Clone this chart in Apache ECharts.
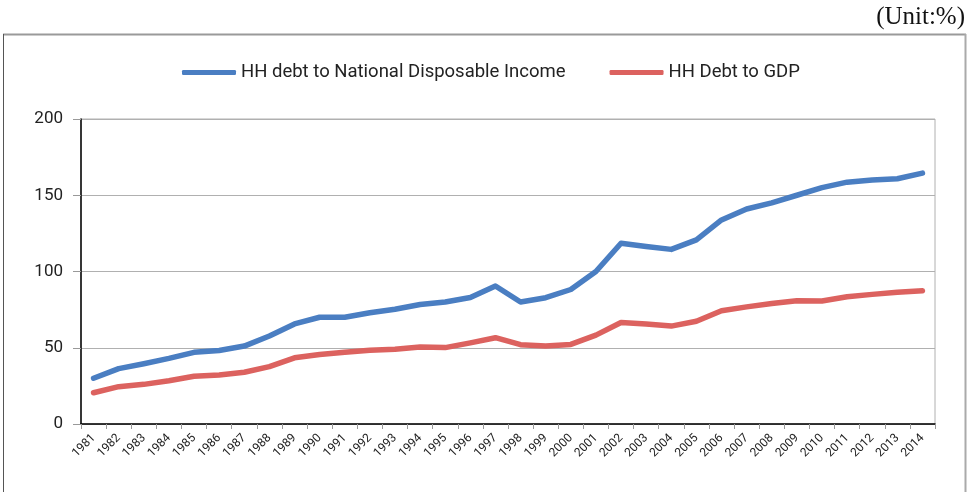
<!DOCTYPE html>
<html>
<head>
<meta charset="utf-8">
<script src="https://cdn.jsdelivr.net/npm/echarts@6/dist/echarts.min.js"></script>
<style>html,body{margin:0;padding:0;background:#fff;}#c{width:969px;height:492px;}</style>
</head>
<body>
<div id="c"></div>
<script>
const years = ['1981','1982','1983','1984','1985','1986','1987','1988','1989','1990','1991','1992','1993','1994','1995','1996','1997','1998','1999','2000','2001','2002','2003','2004','2005','2006','2007','2008','2009','2010','2011','2012','2013','2014'];
const hhDebtToNDI = [30, 36.3, 39.5, 43, 47, 48.2, 51.1, 57.7, 65.6, 70, 70, 73, 75.2, 78.4, 80, 83, 90.5, 80, 82.8, 88.2, 100, 118.5, 116.4, 114.5, 120.7, 133.8, 141, 145, 150, 155, 158.6, 160, 160.8, 164.5];
const hhDebtToGDP = [20.5, 24.5, 26, 28.4, 31.3, 32.2, 33.9, 37.6, 43.4, 45.6, 47, 48.3, 49, 50.5, 50.1, 53.2, 56.6, 52, 51.2, 52.2, 58.3, 66.6, 65.6, 64.2, 67.4, 74.3, 76.8, 79, 80.8, 80.7, 83.4, 85, 86.4, 87.4];
const seriesNames = ['HH debt to National Disposable Income', 'HH Debt to GDP'];
const unitLabel = '(Unit:%)';

const chart = echarts.init(document.getElementById('c'), null, {renderer: 'canvas'});
chart.setOption({
  backgroundColor: '#fff',
  animation: false,
  textStyle: {fontFamily: 'Roboto'},
  graphic: [
    {type: 'line', shape: {x1: 3, y1: 34.5, x2: 966, y2: 34.5}, style: {stroke: '#9a9a9a', lineWidth: 2}},
    {type: 'line', shape: {x1: 3.5, y1: 34, x2: 3.5, y2: 492}, style: {stroke: '#555', lineWidth: 1}},
    {type: 'line', shape: {x1: 965.5, y1: 34, x2: 965.5, y2: 492}, style: {stroke: '#aaa', lineWidth: 2}},
    {type: 'text', right: 4, top: 5, style: {text: unitLabel, font: '25px "Liberation Serif"', fill: '#111'}}
  ],
  legend: {
    left: 177, top: 58,
    itemWidth: 54, itemHeight: 5, itemGap: 44,
    icon: 'roundRect',
    textStyle: {fontSize: 18.5, color: '#222', fontFamily: 'Roboto'},
    data: seriesNames
  },
  grid: {left: 81, right: 34, top: 119, bottom: 68, show: true, borderColor: '#b0b0b0', borderWidth: 1},
  xAxis: {
    type: 'category', data: years, boundaryGap: true,
    axisLine: {lineStyle: {color: '#000', width: 1.5}},
    axisTick: {show: true, length: 5, lineStyle: {color: '#999'}},
    axisLabel: {rotate: 45, fontSize: 12, color: '#222', margin: 12, interval: 0}
  },
  yAxis: {
    type: 'value', min: 0, max: 200, interval: 50,
    axisLine: {show: true, lineStyle: {color: '#000', width: 1.5}},
    axisTick: {show: true, length: 8, lineStyle: {color: '#999'}},
    axisLabel: {fontSize: 17, color: '#222', margin: 18},
    splitLine: {lineStyle: {color: '#b0b0b0', width: 1}}
  },
  series: [
    {name: seriesNames[0], type: 'line', data: hhDebtToNDI, symbol: 'none', color: '#4a7ec2',
     lineStyle: {width: 5.5, color: '#4a7ec2', cap: 'round', join: 'round'}},
    {name: seriesNames[1], type: 'line', data: hhDebtToGDP, symbol: 'none', color: '#dc625f',
     lineStyle: {width: 5.5, color: '#dc625f', cap: 'round', join: 'round'}}
  ]
});
</script>
</body>
</html>
